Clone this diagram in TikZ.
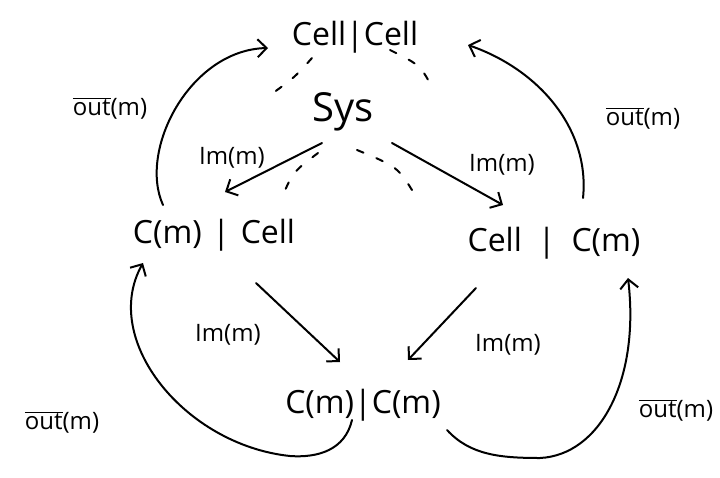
\documentclass[tikz,border=0pt]{standalone}
\usepackage{fontspec}
\setmainfont{Open Sans}
\usetikzlibrary{arrows.meta}
\tikzset{
  state/.style={inner sep=2pt, font=\fontsize{32}{34}\selectfont},
  lbl/.style={inner sep=1pt, font=\fontsize{24}{26}\selectfont},
  flow/.style={line width=2pt, line cap=round, -{Straight Barb[length=9pt,width=18pt,line width=2pt]}},
  loop/.style={flow},
  link/.style={line width=2pt, line cap=round, dash pattern=on 7pt off 14pt},
}
\newcommand{\outbar}{$\overline{\mbox{out}}$(m)}
\begin{document}
\begin{tikzpicture}[x=1pt,y=-1pt]
  \useasboundingbox (0,0) rectangle (720,477);

  % states
  \node[state] (cc)   at (355,37)  {Cell|Cell};
  \node[state, font=\fontsize{40}{42}\selectfont] (sys) at (343,112) {Sys};
  \node[state] (cmc)  at (214,235) {C(m)\,\,|\,\,Cell};
  \node[state] (ccm)  at (554,243) {Cell\,\,\,|\,\,\,C(m)};
  \node[state] (cmcm) at (363,405) {C(m)|C(m)};

  % labels
  \node[lbl] (l1) at (232,158) {Im(m)};
  \node[lbl] (l2) at (502,165) {Im(m)};
  \node[lbl] (l3) at (228,335) {Im(m)};
  \node[lbl] (l4) at (508,345) {Im(m)};
  \node[lbl] (o1) at (110,108) {\outbar};
  \node[lbl] (o2) at (643,118) {\outbar};
  \node[lbl] (o3) at (62,422)  {\outbar};
  \node[lbl] (o4) at (676,410) {\outbar};

  % dotted links between Cell|Cell and Sys
  \draw[link] ([shift={(-43,21)}]cc.center) .. controls ([shift={(-60,40)}]cc.center) .. ([shift={(-70,-19)}]sys.center);
  \draw[link] ([shift={(35,13)}]cc.center) .. controls ([shift={(65,28)}]cc.center) .. ([shift={(89,-25)}]sys.center);
  \draw[link] ([shift={(-25,41)}]sys.center) .. controls ([shift={(-50,60)}]sys.center) .. ([shift={(-60,83)}]sys.center);
  \draw[link] ([shift={(14,38)}]sys.center) .. controls ([shift={(55,55)}]sys.center) .. ([shift={(72,83)}]sys.center);

  % input transitions
  \draw[flow] ([shift={(-21,31)}]sys.center) -- ([shift={(11,-43)}]cmc.center);
  \draw[flow] ([shift={(49,31)}]sys.center) -- ([shift={(-51,-38)}]ccm.center);
  \draw[flow] ([shift={(42,48)}]cmc.center) .. controls (290,315) .. ([shift={(-23,-43)}]cmcm.center);
  \draw[flow] ([shift={(-78,45)}]ccm.center) -- ([shift={(45,-45)}]cmcm.center);

  % output loops
  \draw[loop] ([shift={(-51,-30)}]cmc.center) .. controls (138,150) and (190,50) .. ([shift={(-87,11)}]cc.center);
  \draw[loop] ([shift={(29,-45)}]ccm.center) .. controls (590,130) and (540,70) .. ([shift={(113,8)}]cc.center);
  \draw[loop] ([shift={(-11,15)}]cmcm.center) .. controls (345,450) and (318,458) .. (290,456)
              .. controls (185,445) and (100,340) .. ([shift={(-71,28)}]cmc.center);
  \draw[loop] ([shift={(84,25)}]cmcm.center) .. controls (470,455) and (500,458) .. (540,458)
              .. controls (600,455) and (640,380) .. ([shift={(74,35)}]ccm.center);
\end{tikzpicture}
\end{document}
